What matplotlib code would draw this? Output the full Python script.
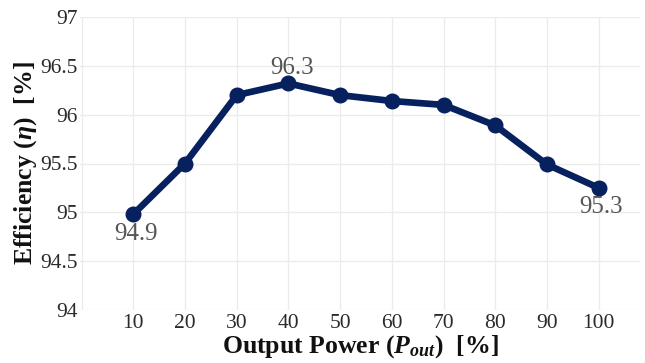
import matplotlib
matplotlib.use("Agg")
import matplotlib.pyplot as plt

power = [10, 20, 30, 40, 50, 60, 70, 80, 90, 100]
efficiency = [94.98, 95.50, 96.20, 96.32, 96.20, 96.14, 96.10, 95.89, 95.49, 95.25]
yticks = [94, 94.5, 95, 95.5, 96, 96.5, 97]
ytick_labels = ["94", "94.5", "95", "95.5", "96", "96.5", "97"]
annotations = [(10, 94.98, "94.9", "below"), (40, 96.32, "96.3", "above"), (100, 95.25, "95.3", "below")]

plt.rcParams["font.family"] = ["Liberation Serif", "DejaVu Serif"]
plt.rcParams["mathtext.fontset"] = "custom"
plt.rcParams["mathtext.rm"] = "Liberation Serif"
plt.rcParams["mathtext.it"] = "Liberation Serif:italic"
plt.rcParams["mathtext.bf"] = "Liberation Serif:bold"
plt.rcParams["mathtext.bfit"] = "Liberation Serif:italic:bold"

fig = plt.figure(figsize=(6.45, 3.63), dpi=100)
ax = fig.add_axes([80/645, 1 - 310/363, (640 - 80)/645, (310 - 17)/363])

grid_c = "#ebebeb"
for y in yticks:
    ax.axhline(y, color=grid_c, lw=0.9, zorder=0)
for x in [0] + power:
    ax.axvline(x, color=grid_c, lw=0.9, zorder=0)

navy = "#06215e"
ax.plot(power, efficiency, color=navy, lw=4.8, marker="o", ms=10.5, zorder=3, clip_on=False)

for x, y, t, pos in annotations:
    if pos == "above":
        ax.annotate(t, (x, y), xytext=(3, 3), textcoords="offset points", ha="center", va="bottom",
                    fontsize=18, color="#555555")
    else:
        ax.annotate(t, (x, y), xytext=(2, -6), textcoords="offset points", ha="center", va="top",
                    fontsize=18, color="#555555")

ax.set_xlim(-0.3, 108)
ax.set_ylim(94, 97)
ax.set_xticks(power)
ax.set_xticklabels([str(p) for p in power])
ax.set_yticks(yticks)
ax.set_yticklabels(ytick_labels)
ax.tick_params(axis="both", length=0, labelsize=15.5, colors="#2a2a2a")
ax.tick_params(axis="y", pad=1.5)
ax.tick_params(axis="x", pad=3)
for s in ax.spines.values():
    s.set_visible(False)

ax.set_xlabel(r"Output Power ($\mathbfit{P}_{\mathbfit{out}}$)  [%]", fontsize=18.5, fontweight="bold",
              labelpad=0, color="#111111")
ax.set_ylabel(r"Efficiency ($\mathbfit{\eta}$)  [%]", fontsize=18.5, fontweight="bold",
              labelpad=1, color="#111111")

fig.savefig("out.png", dpi=100)
